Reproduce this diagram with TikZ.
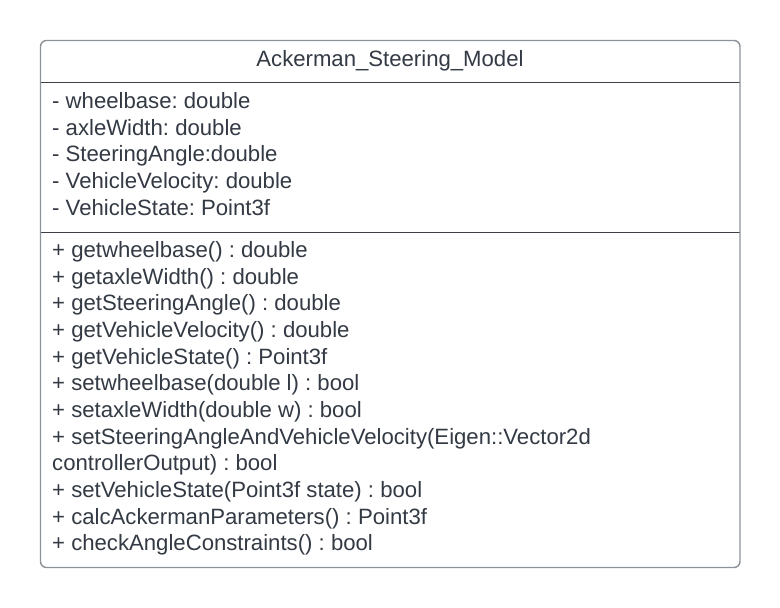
\documentclass[tikz,border=0pt]{standalone}
\usepackage{fontspec}
\setmainfont{Liberation Sans}
\frenchspacing
\definecolor{txt}{HTML}{333A44}
\definecolor{border}{HTML}{8E9299}
\definecolor{sep}{HTML}{3C4148}
\begin{document}
\begin{tikzpicture}[x=1pt,y=-1pt,
  member/.style={anchor=base west,inner sep=0pt,font=\fontsize{22.15}{26}\selectfont\frenchspacing,text=txt},
  titletext/.style={anchor=base,inner sep=0pt,font=\fontsize{22.15}{26}\selectfont\frenchspacing,text=txt}]
\useasboundingbox[fill=white] (0,0) rectangle (780,608);
\draw[sep,line width=1.2pt] (40.5,82.5) -- (740,82.5);
\draw[sep,line width=1.2pt] (40.5,232.5) -- (740,232.5);
\draw[border,line width=1.4pt,rounded corners=6pt] (40.5,40.5) rectangle (740,567.5);
\node[titletext] (title) at (390,66) {Ackerman\_Steering\_Model};
\foreach \t [count=\i from 0] in {
  {- wheelbase: double},
  {- axleWidth: double},
  {- SteeringAngle:double},
  {- VehicleVelocity: double},
  {- VehicleState: Point3f}}
  \node[member] (a\i) at (52,108.5+26.65*\i) {\t};
\foreach \t [count=\i from 0] in {
  {+ getwheelbase() : double},
  {+ getaxleWidth() : double},
  {+ getSteeringAngle() : double},
  {+ getVehicleVelocity() : double},
  {+ getVehicleState() : Point3f},
  {+ setwheelbase(double l) : bool},
  {+ setaxleWidth(double w) : bool},
  {+ setSteeringAngleAndVehicleVelocity(Eigen::Vector2d},
  {controllerOutput) : bool},
  {+ setVehicleState(Point3f state) : bool},
  {+ calcAckermanParameters() : Point3f},
  {+ checkAngleConstraints() : bool}}
  \node[member] (m\i) at (52,257.5+26.65*\i) {\t};
\end{tikzpicture}
\end{document}
